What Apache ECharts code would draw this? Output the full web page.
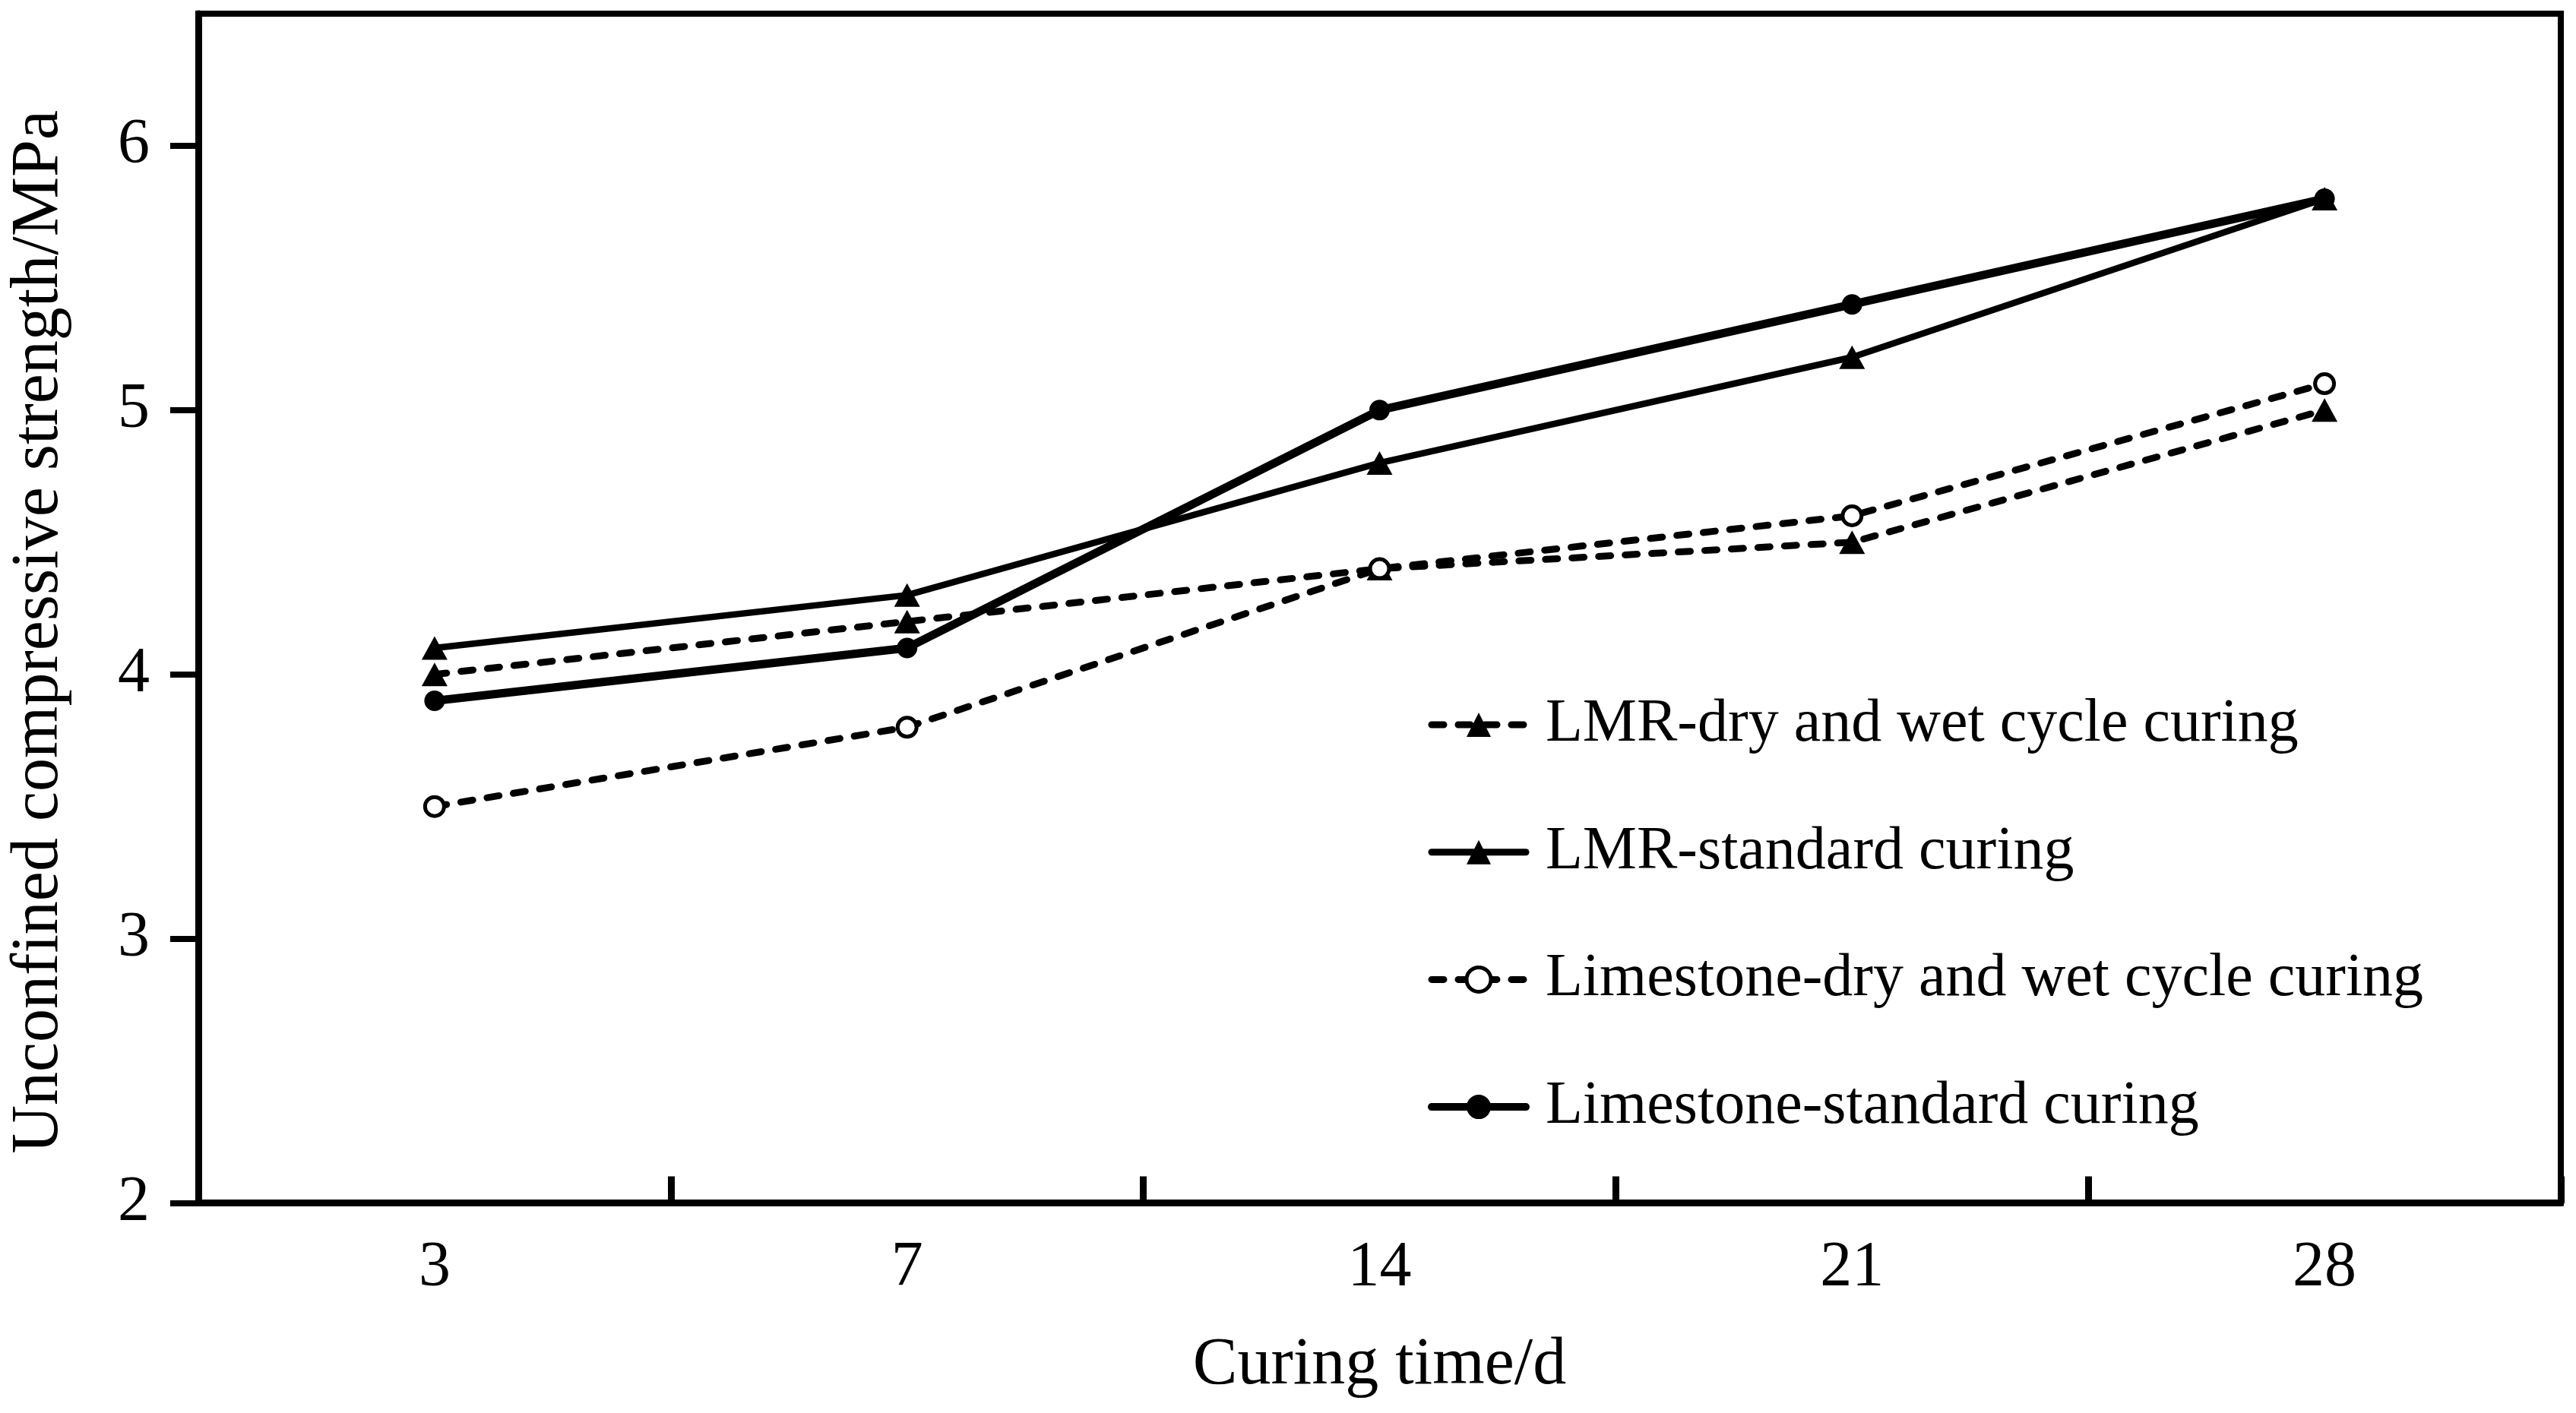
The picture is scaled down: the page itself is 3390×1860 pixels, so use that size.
<!DOCTYPE html>
<html><head><meta charset="utf-8">
<script src="https://cdn.jsdelivr.net/npm/echarts@6/dist/echarts.min.js"></script>
<style>html,body{margin:0;padding:0;background:#fff}#c{width:3390px;height:1860px}</style>
</head><body><div id="c"></div>
<script>
const categories = ['3', '7', '14', '21', '28'];
const lmrDryWet = [4.0, 4.2, 4.4, 4.5, 5.0];
const lmrStandard = [4.1, 4.3, 4.8, 5.2, 5.8];
const limeDryWet = [3.5, 3.8, 4.4, 4.6, 5.1];
const limeStandard = [3.9, 4.1, 5.0, 5.4, 5.8];
const yTicks = [2, 3, 4, 5, 6];
const names = [
  'LMR-dry and wet cycle curing',
  'LMR-standard curing',
  'Limestone-dry and wet cycle curing',
  'Limestone-standard curing'
];
const FONT = 'Liberation Serif, Times New Roman, serif';
const chart = echarts.init(document.getElementById('c'));
const dash = [16, 19];
const triSize = [34, 31];
chart.setOption({
  animation: false,
  backgroundColor: '#fff',
  textStyle: { fontFamily: FONT, color: '#000' },
  grid: { left: 256, top: 18, right: 20, bottom: 276.5, show: true, borderColor: '#000', borderWidth: 8, backgroundColor: 'transparent' },
  legend: {
    orient: 'vertical', left: 1874, top: 909,
    itemWidth: 124, itemHeight: 40, itemGap: 87.7,
    data: [
      { name: names[0], lineStyle: { width: 9, type: dash, cap: 'round', color: '#000' }, itemStyle: { color: '#000', borderWidth: 0 } },
      { name: names[1], lineStyle: { width: 9, type: 'solid', cap: 'round', color: '#000' }, itemStyle: { color: '#000', borderWidth: 0 } },
      { name: names[2], lineStyle: { width: 9, type: dash, cap: 'round', color: '#000' }, itemStyle: { color: '#fff', borderColor: '#000', borderWidth: 5 } },
      { name: names[3], lineStyle: { width: 10, type: 'solid', cap: 'round', color: '#000' }, itemStyle: { color: '#000', borderWidth: 0 } }
    ],
    textStyle: { fontSize: 80, lineHeight: 80, fontFamily: FONT, color: '#000', padding: [0, 0, 0, 21] }
  },
  xAxis: {
    type: 'category', data: categories, boundaryGap: true,
    axisLine: { lineStyle: { color: '#000', width: 9 } },
    axisTick: { show: true, interval: 0, inside: true, length: 35, lineStyle: { color: '#000', width: 9 } },
    axisLabel: { fontSize: 84, fontFamily: FONT, color: '#000', margin: 44 },
    name: 'Curing time/d', nameLocation: 'middle', nameGap: 170,
    nameTextStyle: { fontSize: 88, fontFamily: FONT, color: '#000' },
    splitLine: { show: false }
  },
  yAxis: {
    type: 'value', min: 2, max: 6.5, interval: 1,
    axisLine: { show: true, lineStyle: { color: '#000', width: 9 } },
    axisTick: { show: true, inside: false, length: 37, customValues: yTicks, lineStyle: { color: '#000', width: 8 } },
    axisLabel: { fontSize: 84, fontFamily: FONT, color: '#000', margin: 64, customValues: yTicks },
    splitLine: { show: false },
    name: 'Unconfined compressive strength/MPa', nameLocation: 'middle', nameGap: 165,
    nameTextStyle: { fontSize: 88, fontFamily: FONT, color: '#000', padding: [0, 62, 0, 0] }
  },
  series: [
    { name: names[0], type: 'line', data: lmrDryWet, symbol: 'triangle', symbolSize: triSize,
      lineStyle: { color: '#000', width: 9, type: dash, cap: 'round' }, itemStyle: { color: '#000', borderWidth: 0 } },
    { name: names[1], type: 'line', data: lmrStandard, symbol: 'triangle', symbolSize: triSize,
      lineStyle: { color: '#000', width: 8.5, type: 'solid' }, itemStyle: { color: '#000', borderWidth: 0 } },
    { name: names[2], type: 'line', data: limeDryWet, symbol: 'circle', symbolSize: 25,
      lineStyle: { color: '#000', width: 9, type: dash, cap: 'round' }, itemStyle: { color: '#fff', borderColor: '#000', borderWidth: 5 } },
    { name: names[3], type: 'line', data: limeStandard, symbol: 'circle', symbolSize: 27,
      lineStyle: { color: '#000', width: 11, type: 'solid' }, itemStyle: { color: '#000', borderWidth: 0 } }
  ]
});
</script></body></html>
